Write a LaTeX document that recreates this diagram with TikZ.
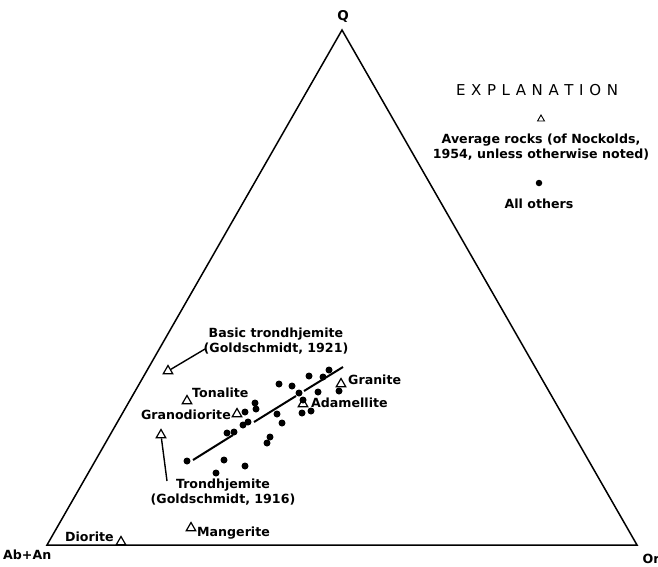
\documentclass[tikz,border=0pt]{standalone}
\usepackage{fontspec}
\setmainfont{DejaVu Sans}
\usetikzlibrary{shapes.geometric}
\begin{document}
\begin{tikzpicture}[x=1pt,y=-1pt,
  lbl/.style={font=\bfseries\fontsize{12.6}{14.5}\selectfont, inner sep=0pt},
  dotm/.style={circle,fill=black,inner sep=0pt,minimum size=7pt},
  tri/.style={regular polygon,regular polygon sides=3,draw,line width=1.2pt,inner sep=0pt,minimum size=11pt},
  edge/.style={line width=1.5pt},
  conn/.style={line width=1.4pt},
  trend/.style={line width=2pt}]
\useasboundingbox (0,0) rectangle (658,566);
% ternary frame
\coordinate (Qv) at (342,30);
\coordinate (Av) at (47,545);
\coordinate (Ov) at (637,545);
\draw[edge,line join=miter] (Av) -- (Qv) -- (Ov) -- cycle;
\node[lbl,font=\bfseries\fontsize{13.5}{15}\selectfont] (Q) at (343,16) {Q};
\node[lbl,anchor=west] (AbAn) at (3,555) {Ab+An};
\node[lbl] (Or) at (651,559) {Or};
% explanation
\node[font=\fontsize{15}{17}\selectfont, inner sep=0pt] (expl) at (537,90)
  {\makebox[162pt][s]{E\hfil X\hfil P\hfil L\hfil A\hfil N\hfil A\hfil T\hfil I\hfil O\hfil N}};
\node[tri,minimum size=8pt,line width=0.9pt] (extri) at (541,119) {};
\node[lbl,align=center] (avg) at (541,147) {Average rocks (of Nockolds,\\1954, unless otherwise noted)};
\node[dotm,minimum size=6.5pt] (exdot) at (539,183) {};
\node[lbl] (allo) at (539,204) {All others};
% dots
\foreach \p [count=\i] in {(309,376),(323,377),(329,370),(279,384),(292,386),(299,393),(318,392),(339,391),(303,400),(302,413),(311,411),(277,414),(282,423),(245,412),(255,403),(256,409),(248,422),(243,425),(234,432),(227,433),(270,437),(267,443),(187,461),(224,460),(245,466),(216,473)}
  \node[dotm] (d\i) at \p {};
% trend line
\coordinate (L1) at (193,460);
\coordinate (L2) at (233,435);
\coordinate (L3) at (254,422);
\coordinate (L4) at (296,396);
\coordinate (L5) at (304,391);
\coordinate (L6) at (343,367);
\draw[trend] (L1) -- (L2) (L3) -- (L4) (L5) -- (L6);
% average rocks
\node[tri] (tgran) at (341,384) {};
\node[lbl,anchor=west] (lgran) at (348,380) {Granite};
\node[tri] (tadam) at (303,404) {};
\node[lbl,anchor=west] (ladam) at (311,403) {Adamellite};
\node[tri] (tgd) at (237,414) {};
\node[lbl,anchor=east] (lgd) at (231,415) {Granodiorite};
\node[tri] (tton) at (187,401) {};
\node[lbl,anchor=west] (lton) at (192,393) {Tonalite};
\node[tri] (tbas) at (168,371) {};
\node[lbl,align=center] (lbas) at (276,341) {Basic trondhjemite\\(Goldschmidt, 1921)};
\coordinate (cbas) at (205,349);
\draw[conn] (cbas) -- (tbas);
\node[tri] (ttr) at (161,435) {};
\node[lbl,align=center] (ltr) at (223,492) {Trondhjemite\\(Goldschmidt, 1916)};
\coordinate (ctr) at (167,481);
\draw[conn] (ctr) -- (ttr);
\node[tri] (tdio) at (121,542) {};
\node[lbl,anchor=west] (ldio) at (65,537) {Diorite};
\node[tri] (tman) at (191,528) {};
\node[lbl,anchor=west] (lman) at (197,533) {Mangerite};
\end{tikzpicture}
\end{document}
